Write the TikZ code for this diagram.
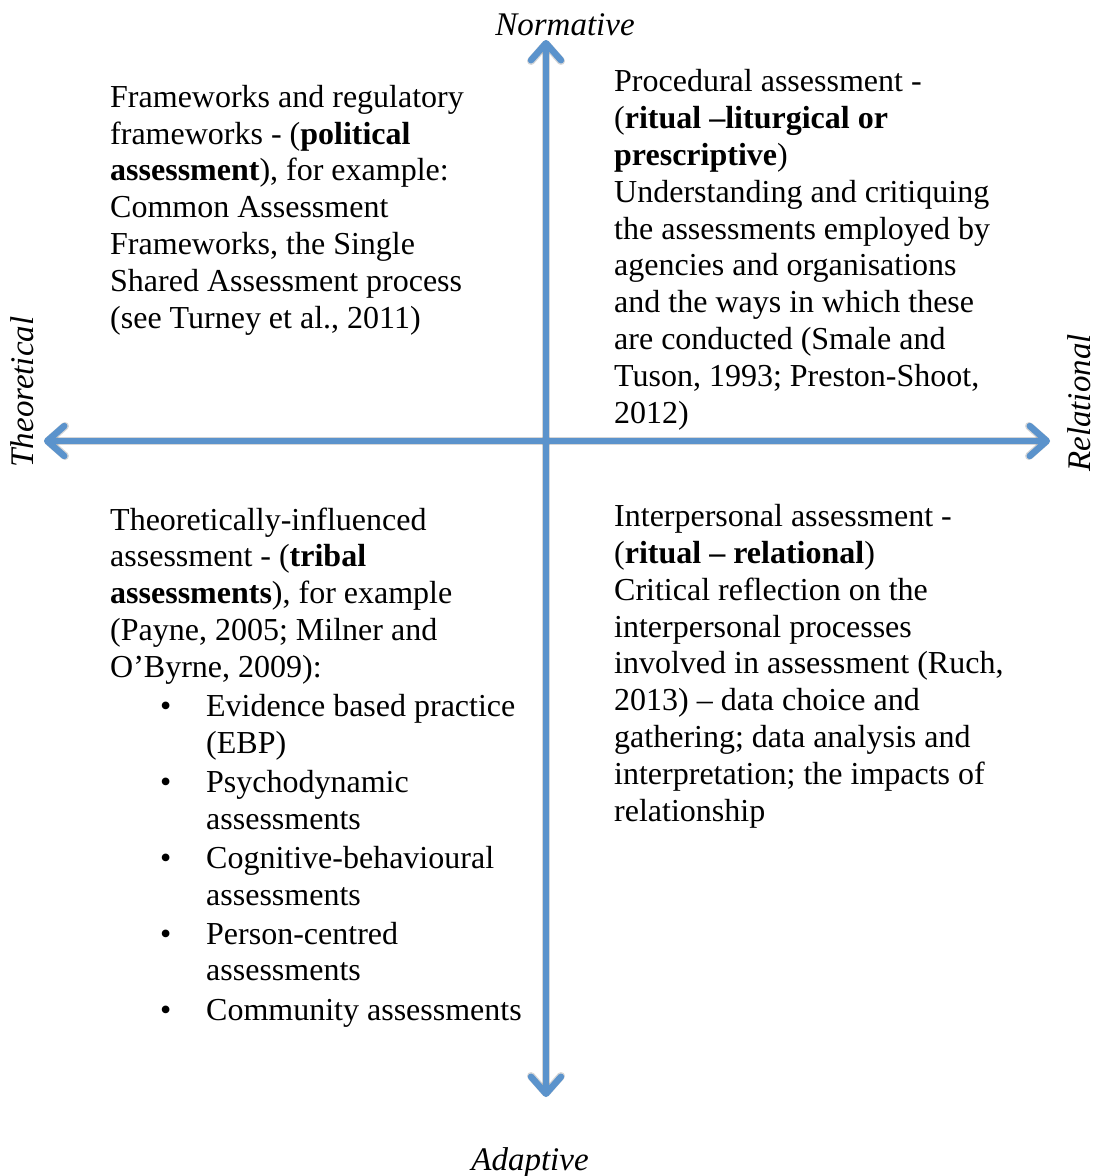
\documentclass[tikz,border=0pt]{standalone}
\usepackage{fontspec}
\setmainfont{Liberation Serif}
\usetikzlibrary{arrows.meta}
\definecolor{axisblue}{RGB}{91,147,204}
\begin{document}
\begin{tikzpicture}[x=1pt,y=-1pt,
  axis/.style={line width=6.5pt, draw=axisblue, {Straight Barb[length=17pt,width=30pt,round]}-{Straight Barb[length=17pt,width=30pt,round]}},
  axisshade/.style={line width=8pt, draw=black, opacity=0.16, shift={(1,3)},
    {Straight Barb[length=17pt,width=30pt,round]}-{Straight Barb[length=17pt,width=30pt,round]}},
  % multi-line blocks are placed by the baseline of their last line
  body/.style={font=\fontsize{32}{36.8}\selectfont, align=left, anchor=base west, inner sep=0pt},
  pole/.style={font=\fontsize{33}{36}\selectfont\itshape, anchor=base, inner sep=0pt}]
\useasboundingbox (0,0) rectangle (1096,1176);

% axis end points
\coordinate (ntip) at (546,40);
\coordinate (stip) at (546,1097);
\coordinate (wtip) at (44,441);
\coordinate (etip) at (1050,441);

% soft shadow under the axes
\draw[axisshade] (wtip) -- (etip);
\draw[axisshade] (stip) -- (ntip);

% the two axes
\draw[axis] (wtip) -- (etip);
\draw[axis] (stip) -- (ntip);

% pole labels
\node[pole] (normative) at (565,35) {Normative};
\node[pole] (adaptive) at (530,1170) {Adaptive};
\node[pole, rotate=90] (theoretical) at (33,392) {Theoretical};
\node[pole, rotate=90] (relational) at (1090,403) {Relational};

% quadrant texts
\node[body] (political) at (110,328) {Frameworks and regulatory\\
frameworks - (\textbf{political}\\
\textbf{assessment}), for example:\\
Common Assessment\\
Frameworks, the Single\\
Shared Assessment process\\
(see Turney et al., 2011)};

\node[body] (procedural) at (614,423) {Procedural assessment -\\
(\textbf{ritual –liturgical or}\\
\textbf{prescriptive})\\
Understanding and critiquing\\
the assessments employed by\\
agencies and organisations\\
and the ways in which these\\
are conducted (Smale and\\
Tuson, 1993; Preston-Shoot,\\
2012)};

\node[body] (tribal) at (110,1020) {Theoretically-influenced\\
assessment - (\textbf{tribal}\\
\textbf{assessments}), for example\\
(Payne, 2005; Milner and\\
O’Byrne, 2009):\\[2.3pt]
\hspace*{50pt}\makebox[46pt][l]{•}Evidence based practice\\
\hspace*{96pt}(EBP)\\[2.3pt]
\hspace*{50pt}\makebox[46pt][l]{•}Psychodynamic\\
\hspace*{96pt}assessments\\[2.3pt]
\hspace*{50pt}\makebox[46pt][l]{•}Cognitive-behavioural\\
\hspace*{96pt}assessments\\[2.3pt]
\hspace*{50pt}\makebox[46pt][l]{•}Person-centred\\
\hspace*{96pt}assessments\\[2.3pt]
\hspace*{50pt}\makebox[46pt][l]{•}Community assessments};

\node[body] (interpersonal) at (614,821) {Interpersonal assessment -\\
(\textbf{ritual – relational})\\
Critical reflection on the\\
interpersonal processes\\
involved in assessment (Ruch,\\
2013) – data choice and\\
gathering; data analysis and\\
interpretation; the impacts of\\
relationship};
\end{tikzpicture}
\end{document}
